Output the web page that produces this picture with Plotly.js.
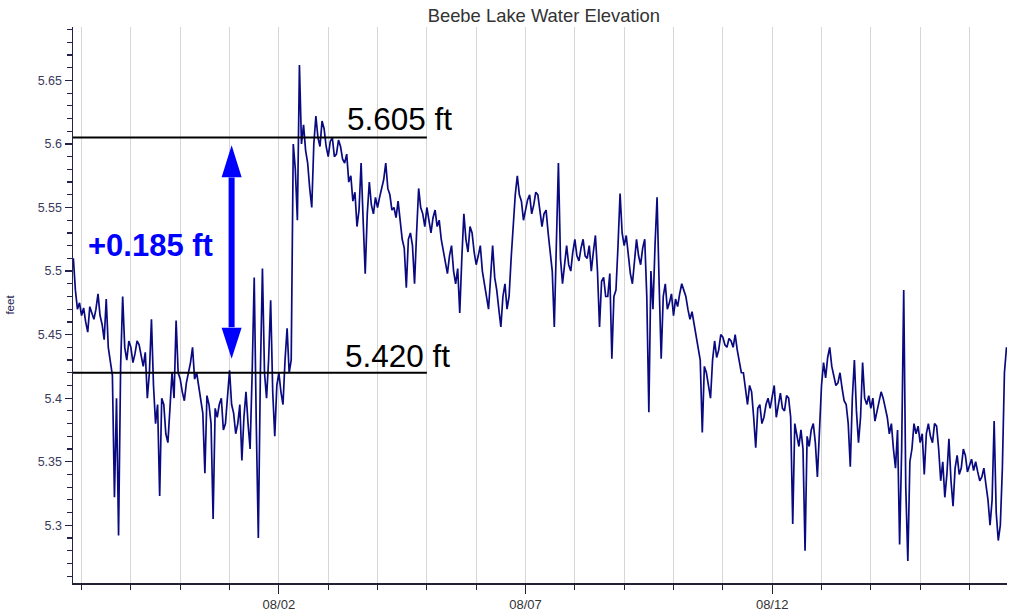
<!DOCTYPE html>
<html>
<head>
<meta charset="utf-8">
<script src="https://cdn.plot.ly/plotly-3.0.1.min.js"></script>
<style>html,body{margin:0;padding:0;background:#fff;}#chart{width:1009px;height:611px;}</style>
</head>
<body>
<div id="chart"></div>
<script>
// Water elevation (feet), one reading every hour starting 2016-07-28 20:00
const startTime = Date.UTC(2016, 6, 28, 20, 0);
const stepHours = 1;
const elevation = [
  5.510, 5.485, 5.470, 5.475,
  // 07/29
  5.465, 5.471, 5.460, 5.452, 5.472, 5.466, 5.462, 5.470, 5.482, 5.465, 5.458, 5.446,
  5.478, 5.440, 5.430, 5.418, 5.322, 5.400, 5.292, 5.425, 5.480, 5.440, 5.430, 5.445,
  // 07/30
  5.440, 5.428, 5.435, 5.445, 5.442, 5.432, 5.425, 5.436, 5.400, 5.420, 5.462, 5.410,
  5.380, 5.395, 5.323, 5.400, 5.395, 5.372, 5.365, 5.392, 5.420, 5.400, 5.461, 5.420,
  // 07/31
  5.415, 5.405, 5.398, 5.412, 5.420, 5.428, 5.440, 5.415, 5.420, 5.408, 5.400, 5.388,
  5.341, 5.402, 5.395, 5.380, 5.305, 5.392, 5.385, 5.395, 5.400, 5.375, 5.380, 5.398,
  // 08/01
  5.422, 5.395, 5.388, 5.372, 5.380, 5.395, 5.351, 5.385, 5.405, 5.380, 5.360, 5.420,
  5.495, 5.380, 5.290, 5.420, 5.502, 5.420, 5.400, 5.430, 5.477, 5.405, 5.370, 5.410,
  // 08/02
  5.420, 5.405, 5.395, 5.430, 5.455, 5.420, 5.430, 5.600, 5.580, 5.540, 5.662, 5.600,
  5.615, 5.595, 5.585, 5.565, 5.550, 5.600, 5.622, 5.605, 5.598, 5.618, 5.612, 5.598,
  // 08/03
  5.590, 5.602, 5.605, 5.590, 5.592, 5.603, 5.598, 5.588, 5.585, 5.592, 5.570, 5.575,
  5.555, 5.562, 5.535, 5.548, 5.585, 5.540, 5.498, 5.545, 5.570, 5.552, 5.545, 5.558,
  // 08/04
  5.550, 5.558, 5.565, 5.572, 5.585, 5.565, 5.560, 5.548, 5.550, 5.542, 5.555, 5.540,
  5.525, 5.518, 5.487, 5.525, 5.530, 5.520, 5.490, 5.530, 5.565, 5.550, 5.545, 5.535,
  // 08/05
  5.550, 5.540, 5.530, 5.542, 5.548, 5.535, 5.540, 5.525, 5.515, 5.505, 5.498, 5.512,
  5.520, 5.500, 5.490, 5.502, 5.467, 5.510, 5.545, 5.525, 5.515, 5.535, 5.530, 5.515,
  // 08/06
  5.505, 5.512, 5.520, 5.500, 5.490, 5.480, 5.470, 5.495, 5.520, 5.495, 5.485, 5.470,
  5.456, 5.480, 5.490, 5.470, 5.480, 5.510, 5.540, 5.560, 5.575, 5.560, 5.555, 5.540,
  // 08/07
  5.548, 5.556, 5.560, 5.545, 5.552, 5.562, 5.560, 5.545, 5.535, 5.545, 5.548, 5.530,
  5.515, 5.500, 5.456, 5.520, 5.585, 5.510, 5.490, 5.505, 5.520, 5.505, 5.500, 5.515,
  // 08/08
  5.525, 5.512, 5.508, 5.518, 5.525, 5.512, 5.510, 5.520, 5.500, 5.515, 5.528, 5.500,
  5.456, 5.492, 5.495, 5.480, 5.480, 5.498, 5.431, 5.480, 5.485, 5.520, 5.561, 5.530,
  // 08/09
  5.520, 5.528, 5.510, 5.498, 5.490, 5.510, 5.525, 5.512, 5.505, 5.518, 5.525, 5.480,
  5.389, 5.500, 5.470, 5.520, 5.558, 5.490, 5.431, 5.480, 5.490, 5.470, 5.475, 5.482,
  // 08/10
  5.465, 5.478, 5.472, 5.482, 5.490, 5.485, 5.480, 5.470, 5.462, 5.468, 5.458, 5.450,
  5.440, 5.430, 5.373, 5.425, 5.420, 5.410, 5.400, 5.430, 5.445, 5.432, 5.438, 5.450,
  // 08/11
  5.448, 5.442, 5.440, 5.447, 5.445, 5.440, 5.450, 5.438, 5.430, 5.420, 5.420, 5.405,
  5.395, 5.410, 5.405, 5.385, 5.361, 5.392, 5.395, 5.380, 5.385, 5.395, 5.400, 5.392,
  // 08/12
  5.400, 5.410, 5.385, 5.395, 5.404, 5.392, 5.390, 5.402, 5.400, 5.385, 5.301, 5.380,
  5.370, 5.362, 5.375, 5.360, 5.280, 5.370, 5.362, 5.375, 5.380, 5.365, 5.338, 5.380,
  // 08/13
  5.410, 5.428, 5.416, 5.432, 5.440, 5.425, 5.418, 5.410, 5.412, 5.420, 5.408, 5.398,
  5.395, 5.380, 5.346, 5.400, 5.430, 5.390, 5.365, 5.385, 5.428, 5.400, 5.395, 5.402,
  // 08/14
  5.392, 5.400, 5.382, 5.390, 5.398, 5.405, 5.400, 5.392, 5.385, 5.372, 5.380, 5.360,
  5.345, 5.375, 5.285, 5.360, 5.485, 5.330, 5.272, 5.350, 5.360, 5.380, 5.372, 5.378,
  // 08/15
  5.365, 5.372, 5.340, 5.372, 5.380, 5.370, 5.365, 5.380, 5.378, 5.360, 5.335, 5.350,
  5.322, 5.340, 5.368, 5.335, 5.315, 5.345, 5.355, 5.340, 5.345, 5.360, 5.355, 5.342,
  // 08/16
  5.348, 5.352, 5.343, 5.350, 5.342, 5.335, 5.338, 5.345, 5.332, 5.320, 5.300, 5.320,
  5.382, 5.310, 5.288, 5.300, 5.345, 5.420, 5.440
];

// Axis ticks
const yTickVals = [5.3, 5.35, 5.4, 5.45, 5.5, 5.55, 5.6, 5.65];
const yTickText = ['5.3', '5.35', '5.4', '5.45', '5.5', '5.55', '5.6', '5.65'];
const xTickVals = ['2016-08-02', '2016-08-07', '2016-08-12'];
const xTickText = ['08/02', '08/07', '08/12'];

// Annotated levels
const highLevel = 5.605;
const lowLevel = 5.420;
const levelLineEnd = '2016-08-05 00:00';
const riseLabel = '+0.185 ft';
const arrowTime = '2016-08-01 01:00';
const arrowTop = 5.599;
const arrowBottom = 5.431;

const times = elevation.map((v, i) => startTime + i * stepHours * 3600000);

const trace = {
  type: 'scatter',
  mode: 'lines',
  x: times,
  y: elevation,
  line: {color: '#0a0a80', width: 1.7},
  hoverinfo: 'x+y'
};

const xStart = '2016-07-28 19:50';
const xEnd = '2016-08-16 18:15';
const FONT = 'Arial, "Liberation Sans", sans-serif';

const layout = {
  width: 1009,
  height: 611,
  margin: {l: 73, r: 2, t: 27, b: 28},
  paper_bgcolor: '#ffffff',
  plot_bgcolor: '#ffffff',
  showlegend: false,
  font: {family: FONT},
  title: {
    text: 'Beebe Lake Water Elevation',
    font: {family: FONT, size: 18.4, color: '#333333'},
    xref: 'container', x: 0.539, xanchor: 'center',
    yref: 'container', y: 0.974, yanchor: 'middle'
  },
  xaxis: {
    type: 'date',
    range: [xStart, xEnd],
    tickmode: 'array',
    tickvals: xTickVals,
    ticktext: xTickText,
    ticks: 'outside',
    ticklen: 9,
    tickwidth: 1.2,
    tickcolor: '#222233',
    tickfont: {family: FONT, size: 13, color: '#333333'},
    showline: true,
    linecolor: '#222233',
    linewidth: 1.5,
    showgrid: true,
    gridcolor: '#d6d6d6',
    gridwidth: 1,
    zeroline: false,
    minor: {
      tickmode: 'linear',
      tick0: '2016-07-29',
      dtick: 86400000,
      ticks: 'outside',
      ticklen: 5,
      tickcolor: '#222233',
      showgrid: true,
      gridcolor: '#d6d6d6',
      gridwidth: 1
    }
  },
  yaxis: {
    range: [5.2546, 5.692],
    tickmode: 'array',
    tickvals: yTickVals,
    ticktext: yTickText,
    ticks: 'outside',
    ticklen: 7,
    tickwidth: 1.2,
    tickcolor: '#22224a',
    tickfont: {family: FONT, size: 12.5, color: '#3a3a5e'},
    showline: true,
    linecolor: '#22224a',
    linewidth: 1.5,
    showgrid: false,
    zeroline: false,
    title: {text: 'feet', font: {family: FONT, size: 11.5, color: '#22224e'}, standoff: 20},
    minor: {
      tickmode: 'linear',
      tick0: 5.3,
      dtick: 0.01,
      ticks: 'outside',
      ticklen: 5,
      tickcolor: '#22224a',
      showgrid: false
    }
  },
  shapes: [
    {type: 'line', xref: 'x', yref: 'y', x0: xStart, x1: levelLineEnd, y0: highLevel, y1: highLevel,
     line: {color: '#000000', width: 2}},
    {type: 'line', xref: 'x', yref: 'y', x0: xStart, x1: levelLineEnd, y0: lowLevel, y1: lowLevel,
     line: {color: '#000000', width: 2}},
    // arrow shaft
    {type: 'line', xref: 'x', yref: 'y', x0: arrowTime, x1: arrowTime, y0: 5.4557, y1: 5.5737,
     line: {color: '#0000ff', width: 6}},
    // arrow heads
    {type: 'path', xref: 'x', yref: 'y', xsizemode: 'pixel', ysizemode: 'pixel',
     xanchor: arrowTime, yanchor: arrowTop, path: 'M0,0 L-10,-32 L10,-32 Z',
     fillcolor: '#0000ff', line: {width: 0}},
    {type: 'path', xref: 'x', yref: 'y', xsizemode: 'pixel', ysizemode: 'pixel',
     xanchor: arrowTime, yanchor: arrowBottom, path: 'M0,0 L-10,31 L10,31 Z',
     fillcolor: '#0000ff', line: {width: 0}}
  ],
  annotations: [
    {xref: 'x', yref: 'y', x: '2016-08-03 08:00', y: 5.620, xanchor: 'left', yanchor: 'middle',
     text: highLevel.toFixed(3) + ' ft', showarrow: false,
     font: {family: FONT, size: 31.5, color: '#000000'}},
    {xref: 'x', yref: 'y', x: '2016-08-03 07:00', y: 5.433, xanchor: 'left', yanchor: 'middle',
     text: lowLevel.toFixed(3) + ' ft', showarrow: false,
     font: {family: FONT, size: 31.5, color: '#000000'}},
    {xref: 'x', yref: 'y', x: '2016-07-29 02:00', y: 5.520, xanchor: 'left', yanchor: 'middle',
     text: '<b>' + riseLabel + '</b>', showarrow: false,
     font: {family: FONT, size: 31, color: '#0000ff'}}
  ]
};

Plotly.newPlot('chart', [trace], layout, {displayModeBar: false, staticPlot: true});
</script>
</body>
</html>
